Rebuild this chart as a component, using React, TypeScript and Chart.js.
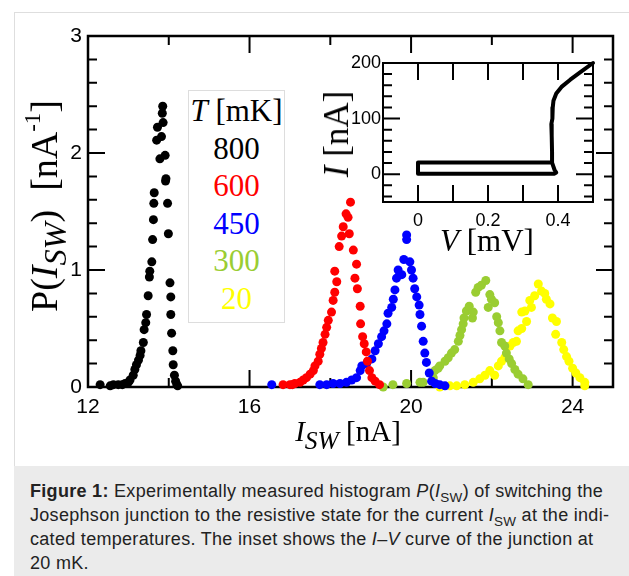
import React, { useEffect, useRef } from "react";
import { Chart, registerables } from "chart.js";

Chart.register(...registerables);

// ---------- Histogram data (I_SW in nA, P in nA^-1) ----------
const t800I = [12.30, 12.55, 12.63, 12.75, 12.85, 12.92, 13.0, 13.04, 13.12, 13.16, 13.20, 13.25, 13.29, 13.31, 13.37, 13.39, 13.43, 13.45, 13.49, 13.52, 13.53, 13.58, 13.60, 13.62, 13.63, 13.64, 13.70, 13.72, 13.78, 13.82, 13.84, 13.85, 13.86, 13.91, 13.92, 13.93, 13.97, 13.99, 14.03, 14.05, 14.05, 14.07, 14.10, 14.11, 14.14, 14.17, 14.20, 14.22];
const t800P = [0.02, 0.01, 0.02, 0.02, 0.02, 0.03, 0.04, 0.06, 0.10, 0.15, 0.19, 0.23, 0.27, 0.31, 0.38, 0.49, 0.55, 0.62, 0.78, 0.94, 0.99, 1.07, 1.26, 1.43, 1.57, 1.66, 2.11, 2.22, 1.95, 2.14, 2.34, 2.40, 2.26, 1.98, 1.76, 1.78, 1.57, 1.31, 0.89, 0.77, 0.62, 0.46, 0.31, 0.19, 0.10, 0.05, 0.02, 0.01];

const t600I = [16.83, 17.0, 17.06, 17.12, 17.25, 17.33, 17.41, 17.5, 17.58, 17.62, 17.70, 17.74, 17.78, 17.82, 17.87, 17.91, 17.95, 18.03, 18.07, 18.11, 18.16, 18.11, 18.22, 18.28, 18.32, 18.39, 18.44, 18.50, 18.47, 18.57, 18.65, 18.61, 18.67, 18.74, 18.75, 18.80, 18.84, 18.89, 18.92, 18.97, 19.03, 19.11, 19.22];
const t600P = [0.02, 0.02, 0.02, 0.03, 0.04, 0.06, 0.08, 0.11, 0.14, 0.18, 0.22, 0.28, 0.33, 0.38, 0.45, 0.51, 0.57, 0.64, 0.74, 0.81, 0.90, 0.99, 1.20, 1.29, 1.37, 1.48, 1.45, 1.58, 1.31, 1.17, 1.05, 0.93, 0.84, 0.69, 0.54, 0.43, 0.37, 0.30, 0.22, 0.14, 0.08, 0.05, 0.02];

const t450I = [16.55, 17.74, 17.91, 18.07, 18.24, 18.40, 18.53, 18.65, 18.74, 18.78, 18.90, 19.03, 19.11, 19.19, 19.27, 19.33, 19.40, 19.43, 19.52, 19.56, 19.60, 19.64, 19.68, 19.77, 19.82, 19.89, 19.89, 19.97, 20.01, 20.05, 20.09, 20.14, 20.20, 20.22, 20.26, 20.30, 20.34, 20.38, 20.45, 20.51, 20.60, 20.71, 20.84];
const t450P = [0.02, 0.02, 0.02, 0.03, 0.03, 0.04, 0.06, 0.08, 0.14, 0.18, 0.20, 0.24, 0.31, 0.37, 0.43, 0.48, 0.54, 0.63, 0.68, 0.75, 0.83, 0.93, 1.00, 0.96, 1.09, 1.26, 1.30, 1.07, 1.00, 0.93, 0.84, 0.77, 0.70, 0.62, 0.52, 0.39, 0.29, 0.21, 0.12, 0.05, 0.03, 0.02, 0.01];

const t300I = [19.31, 19.55, 19.89, 20.22, 20.30, 20.55, 20.59, 20.67, 20.71, 20.84, 20.92, 21.00, 21.08, 21.17, 21.21, 21.25, 21.29, 21.31, 21.37, 21.44, 21.52, 21.54, 21.60, 21.66, 21.74, 21.85, 21.95, 21.99, 22.07, 21.91, 22.12, 22.16, 22.20, 22.24, 22.32, 22.36, 22.43, 22.49, 22.57, 22.65, 22.77, 22.90];
const t300P = [0.00, 0.02, 0.03, 0.04, 0.04, 0.08, 0.14, 0.16, 0.18, 0.22, 0.25, 0.29, 0.32, 0.39, 0.44, 0.49, 0.54, 0.59, 0.65, 0.69, 0.59, 0.64, 0.81, 0.85, 0.87, 0.91, 0.79, 0.75, 0.72, 0.68, 0.60, 0.55, 0.48, 0.38, 0.35, 0.29, 0.24, 0.20, 0.15, 0.11, 0.07, 0.02];

const t20I = [20.71, 20.96, 21.13, 21.33, 21.54, 21.70, 21.83, 21.95, 22.07, 22.16, 22.24, 22.32, 22.45, 22.53, 22.61, 22.65, 22.74, 22.86, 22.74, 22.82, 22.94, 22.98, 23.06, 23.15, 23.23, 23.31, 23.35, 23.44, 23.50, 23.60, 23.58, 23.73, 23.78, 23.85, 23.91, 24.00, 24.08, 24.18, 24.30, 24.30];
const t20P = [0.00, 0.01, 0.01, 0.02, 0.04, 0.07, 0.10, 0.14, 0.10, 0.18, 0.22, 0.25, 0.35, 0.38, 0.39, 0.48, 0.50, 0.56, 0.64, 0.65, 0.74, 0.68, 0.78, 0.88, 0.82, 0.80, 0.75, 0.71, 0.59, 0.56, 0.45, 0.38, 0.32, 0.26, 0.22, 0.16, 0.12, 0.08, 0.04, 0.01];

const temps = ["800", "600", "450", "300", "20"];
const colors = ["#000000", "#ff0000", "#0000ff", "#9acd32", "#ffff00"];

// ---------- Axis ticks ----------
const xLabelTicks = [12, 16, 20, 24];
const xMajorTicks = [16, 20, 24];
const xMinorTicks = [14, 18, 22];
const yLabelTicks = [0, 1, 2, 3];
const yMajorTicks = [1, 2];
const yMinorTicks = [0.2, 0.4, 0.6, 0.8, 1.2, 1.4, 1.6, 1.8, 2.2, 2.4, 2.6, 2.8];

// ---------- Inset I-V curve (V in mV, I in nA) ----------
const ivV = [0.5, 0.465, 0.435, 0.41, 0.395, 0.387, 0.385, 0.384, 0.381, 0.382, 0.383, 0.383, 0.39, 0.395, 0.39, 0, 0, 0.383];
const ivI = [200, 184, 170, 157, 145, 132, 120, 100, 90, 70, 40, 21, 8, 3, 1, 1, 21, 21];
const insetXLabels = [0, 0.2, 0.4];
const insetXTicks = [0, 0.1, 0.2, 0.3, 0.4];
const insetYLabels = [0, 100, 200];
const insetYMajor = [0, 100];
const insetYMinor = [-40, -20, 20, 40, 60, 80, 120, 140, 160, 180];

const frameTicksPlugin = {
  id: "frameTicks",
  beforeDatasetsDraw(chart: any, _args: any, opts: any) {
    const { ctx, chartArea: a, scales } = chart;
    const xs = scales.x;
    const ys = scales.y;
    ctx.save();
    ctx.strokeStyle = "#000";
    ctx.lineWidth = opts.tickWidth;
    ctx.lineCap = "butt";
    const xt = (vals: number[], len: number) => {
      vals.forEach((v) => {
        const p = xs.getPixelForValue(v);
        ctx.beginPath();
        ctx.moveTo(p, a.bottom);
        ctx.lineTo(p, a.bottom - len);
        ctx.moveTo(p, a.top);
        ctx.lineTo(p, a.top + len);
        ctx.stroke();
      });
    };
    const yt = (vals: number[], len: number) => {
      vals.forEach((v) => {
        const p = ys.getPixelForValue(v);
        ctx.beginPath();
        ctx.moveTo(a.left, p);
        ctx.lineTo(a.left + len, p);
        ctx.moveTo(a.right, p);
        ctx.lineTo(a.right - len, p);
        ctx.stroke();
      });
    };
    xt(opts.xMajor, opts.majorLen);
    xt(opts.xMinor, opts.minorLen);
    yt(opts.yMajor, opts.majorLen);
    yt(opts.yMinor, opts.minorLen);
    ctx.lineWidth = opts.frameWidth;
    ctx.strokeRect(a.left, a.top, a.right - a.left, a.bottom - a.top);
    ctx.restore();
  },
};

const serif = '"Liberation Serif", "DejaVu Serif", serif';
const sans = '"Liberation Sans", Arial, sans-serif';

export default function App() {
  const mainRef = useRef<HTMLCanvasElement>(null);
  const insetRef = useRef<HTMLCanvasElement>(null);

  useEffect(() => {
    const series = [
      [t800I, t800P],
      [t600I, t600P],
      [t450I, t450P],
      [t300I, t300P],
      [t20I, t20P],
    ];
    const main = new Chart(mainRef.current!, {
      type: "scatter",
      data: {
        datasets: series.map(([xs, ys], i) => ({
          label: temps[i] + " mK",
          data: xs.map((x, k) => ({ x, y: ys[k] })),
          backgroundColor: colors[i],
          borderWidth: 0,
          pointRadius: 4.5,
          pointHoverRadius: 4.5,
          clip: false as any,
        })),
      },
      options: {
        responsive: false,
        animation: false,
        devicePixelRatio: 1,
        layout: { padding: { top: 36, right: 16, left: 0, bottom: 0 } },
        plugins: {
          legend: { display: false },
          tooltip: { enabled: false },
          frameTicks: {
            xMajor: xMajorTicks,
            xMinor: xMinorTicks,
            yMajor: yMajorTicks,
            yMinor: yMinorTicks,
            majorLen: 17,
            minorLen: 9,
            tickWidth: 2,
            frameWidth: 2.5,
          },
        } as any,
        scales: {
          x: {
            type: "linear",
            min: 12,
            max: 25,
            grid: { display: false, drawTicks: false },
            border: { display: false },
            afterBuildTicks: (s: any) => {
              s.ticks = xLabelTicks.map((v) => ({ value: v }));
            },
            afterFit: (s: any) => {
              s.height = 79;
            },
            ticks: {
              color: "#000",
              padding: 8,
              maxRotation: 0,
              autoSkip: false,
              font: { family: sans, size: 21 },
            },
          },
          y: {
            type: "linear",
            min: 0,
            max: 3,
            grid: { display: false, drawTicks: false },
            border: { display: false },
            afterBuildTicks: (s: any) => {
              s.ticks = yLabelTicks.map((v) => ({ value: v }));
            },
            afterFit: (s: any) => {
              s.width = 88;
            },
            ticks: {
              color: "#000",
              padding: 6,
              autoSkip: false,
              font: { family: sans, size: 21 },
            },
          },
        },
      },
      plugins: [frameTicksPlugin],
    });

    const inset = new Chart(insetRef.current!, {
      type: "scatter",
      data: {
        datasets: [
          {
            label: "I-V 20 mK",
            data: ivV.map((v, k) => ({ x: v, y: ivI[k] })),
            showLine: true,
            borderColor: "#000",
            borderWidth: 4,
            pointRadius: 0,
            tension: 0,
            borderJoinStyle: "round",
            borderCapStyle: "round",
            clip: false as any,
          } as any,
        ],
      },
      options: {
        responsive: false,
        animation: false,
        devicePixelRatio: 1,
        layout: { padding: { top: 23, right: 17, left: 0, bottom: 0 } },
        plugins: {
          legend: { display: false },
          tooltip: { enabled: false },
          frameTicks: {
            xMajor: insetXTicks,
            xMinor: [],
            yMajor: insetYMajor,
            yMinor: insetYMinor,
            majorLen: 17,
            minorLen: 9,
            tickWidth: 2,
            frameWidth: 2,
          },
        } as any,
        scales: {
          x: {
            type: "linear",
            min: -0.1,
            max: 0.5,
            grid: { display: false, drawTicks: false },
            border: { display: false },
            afterBuildTicks: (s: any) => {
              s.ticks = insetXLabels.map((v) => ({ value: v }));
            },
            afterFit: (s: any) => {
              s.height = 58;
            },
            ticks: {
              color: "#000",
              padding: 8,
              maxRotation: 0,
              autoSkip: false,
              font: { family: sans, size: 18 },
              callback: (v: any) => String(v),
            },
          },
          y: {
            type: "linear",
            min: -50,
            max: 200,
            grid: { display: false, drawTicks: false },
            border: { display: false },
            afterBuildTicks: (s: any) => {
              s.ticks = insetYLabels.map((v) => ({ value: v }));
            },
            afterFit: (s: any) => {
              s.width = 63;
            },
            ticks: {
              color: "#000",
              padding: 2,
              autoSkip: false,
              font: { family: sans, size: 18 },
            },
          },
        },
      },
      plugins: [frameTicksPlugin],
    });

    return () => {
      main.destroy();
      inset.destroy();
    };
  }, []);

  const sub = (t: string, size = "0.85em", top = "0.28em") => (
    <span style={{ fontSize: size, position: "relative", top, fontStyle: "italic" }}>{t}</span>
  );

  const capSub = { fontSize: "0.75em", lineHeight: 0 } as const;

  return (
    <div style={{ position: "absolute", left: 0, top: 0, width: 629, height: 576, background: "#fff", overflow: "hidden" }}>
      <div
        style={{
          position: "absolute",
          left: 14,
          top: 12,
          width: 640,
          height: 600,
          borderLeft: "1px solid #dedede",
          borderTop: "1px solid #dedede",
        }}
      />
      <canvas ref={mainRef} width={629} height={466} style={{ position: "absolute", left: 0, top: 0, width: 629, height: 466 }} />

      {/* Y axis title */}
      <div
        style={{
          position: "absolute",
          left: 47,
          top: 206,
          transform: "translate(-50%, -50%) rotate(-90deg)",
          fontFamily: serif,
          fontSize: 38,
          lineHeight: "40px",
          whiteSpace: "nowrap",
          color: "#000",
        }}
      >
        P(<i>I</i>
        {sub("SW")}) &nbsp;[nA<span style={{ fontSize: "0.6em", position: "relative", top: "-0.75em" }}>-1</span>]
      </div>

      {/* X axis title */}
      <div
        style={{
          position: "absolute",
          left: 348,
          top: 432,
          transform: "translate(-50%, -50%)",
          fontFamily: serif,
          fontSize: 29,
          lineHeight: "32px",
          whiteSpace: "nowrap",
          color: "#000",
        }}
      >
        <i>I</i>
        {sub("SW", "0.88em", "0.3em")} [nA]
      </div>

      {/* Legend box */}
      <div
        style={{
          position: "absolute",
          left: 188,
          top: 90,
          width: 97,
          height: 233,
          boxSizing: "border-box",
          border: "1px solid #dddddd",
          background: "#fff",
          fontFamily: serif,
          fontSize: 31,
          lineHeight: "37.5px",
          textAlign: "center",
          paddingTop: 1,
          whiteSpace: "nowrap",
        }}
      >
        <div style={{ color: "#000" }}>
          <i>T</i> [mK]
        </div>
        {temps.map((t, i) => (
          <div key={t} style={{ color: colors[i] }}>
            {t}
          </div>
        ))}
      </div>

      {/* Inset */}
      <canvas ref={insetRef} width={290} height={220} style={{ position: "absolute", left: 320, top: 40, width: 290, height: 220 }} />
      <div
        style={{
          position: "absolute",
          left: 487,
          top: 241,
          transform: "translate(-50%, -50%)",
          fontFamily: serif,
          fontSize: 31,
          lineHeight: "32px",
          whiteSpace: "nowrap",
        }}
      >
        <i>V</i> [mV]
      </div>
      <div
        style={{
          position: "absolute",
          left: 337,
          top: 134,
          transform: "translate(-50%, -50%) rotate(-90deg)",
          fontFamily: serif,
          fontSize: 35,
          lineHeight: "36px",
          whiteSpace: "nowrap",
        }}
      >
        <i>I</i> [nA]
      </div>

      {/* Caption */}
      <div
        style={{
          position: "absolute",
          left: 14,
          top: 466,
          width: 615,
          height: 110,
          background: "#ebebeb",
          boxSizing: "border-box",
          padding: "13px 0 0 16px",
          fontFamily: sans,
          fontSize: 18,
          letterSpacing: "0.3px",
          lineHeight: "24px",
          color: "#222",
          whiteSpace: "nowrap",
        }}
      >
        <b>Figure 1:</b> Experimentally measured histogram <i>P</i>(<i>I</i>
        <sub style={capSub}>SW</sub>) of switching the
        <br />
        Josephson junction to the resistive state for the current <i>I</i>
        <sub style={capSub}>SW</sub> at the indi-
        <br />
        cated temperatures. The inset shows the <i>I</i>–<i>V</i> curve of the junction at
        <br />
        20 mK.
      </div>
    </div>
  );
}
